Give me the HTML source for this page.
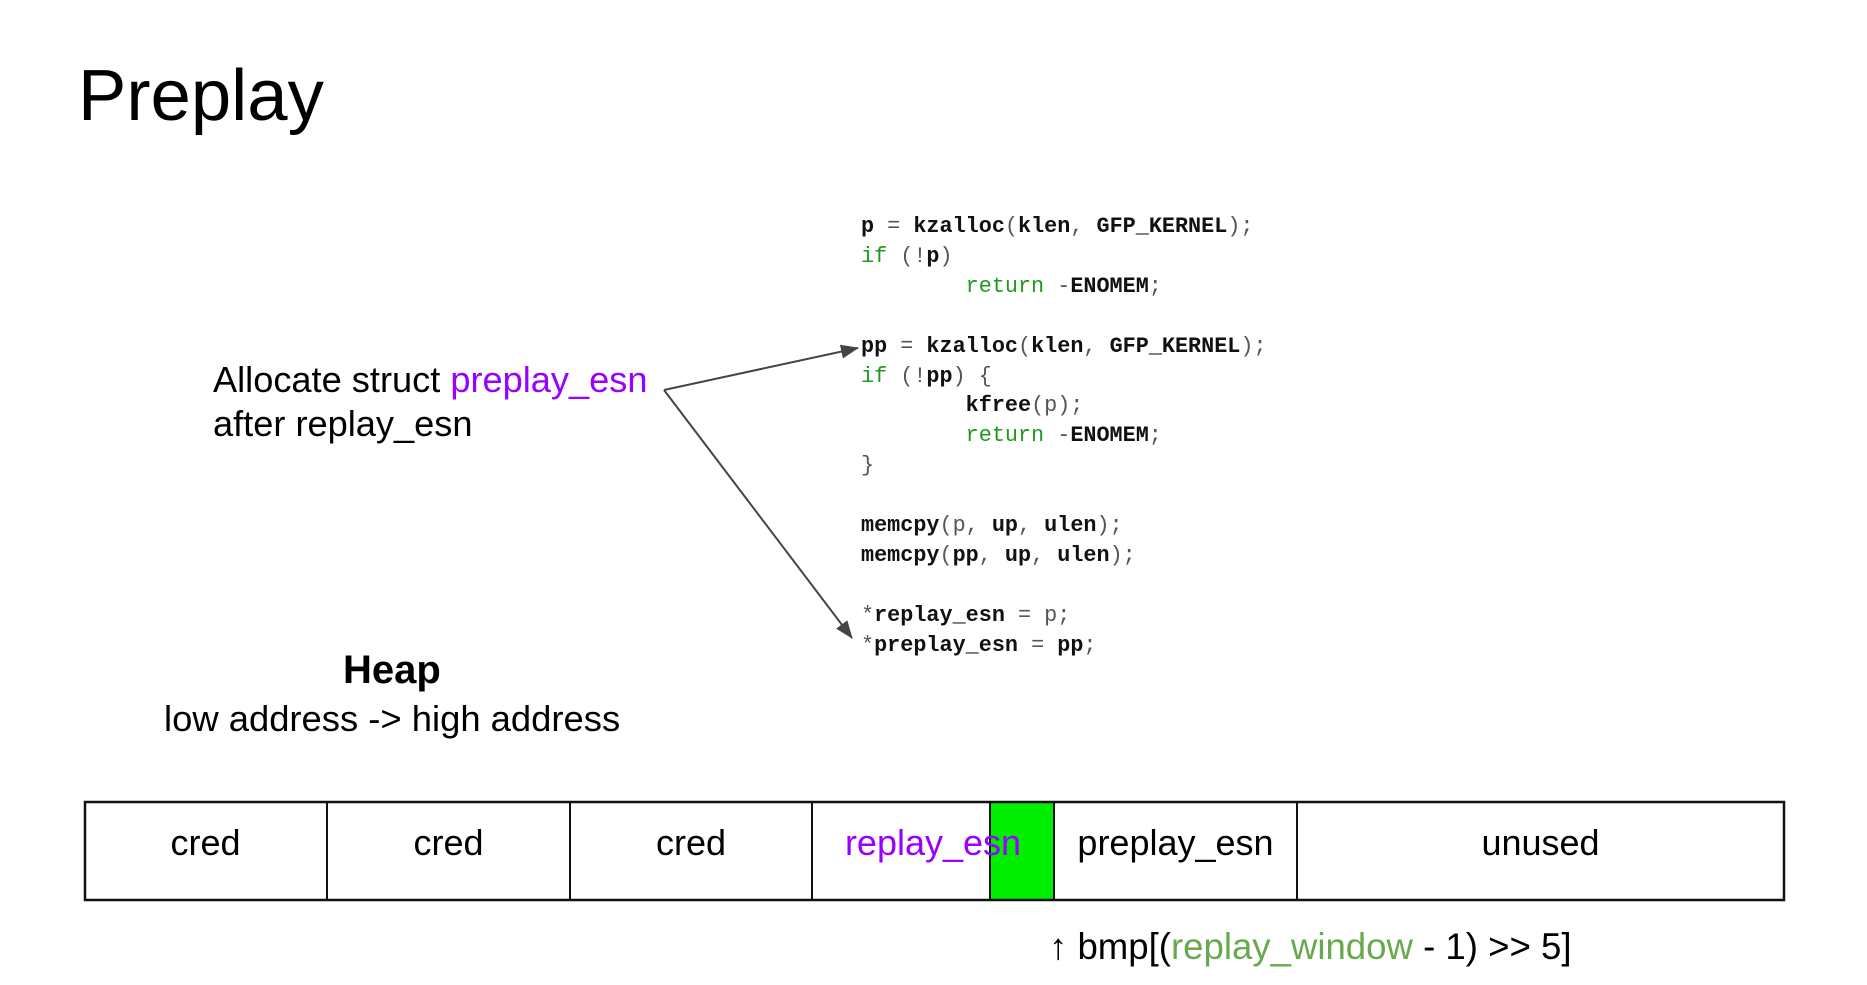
<!DOCTYPE html>
<html><head><meta charset="utf-8"><style>
body{margin:0;width:1867px;height:985px;background:#fff;position:relative;overflow:hidden;font-family:"Liberation Sans",sans-serif;}
.a{position:absolute;white-space:nowrap;}
.code{position:absolute;left:861px;top:212px;font-family:"Liberation Mono",monospace;font-size:21.8px;line-height:29.9px;white-space:pre;color:#555;}
.code b{color:#111;}
.g{color:#1f9a1f;}
.cell{position:absolute;top:801px;height:100px;box-sizing:border-box;font-size:36px;text-align:center;line-height:84px;}
</style></head><body>
<div class="a" style="left:78px;top:54px;font-size:72.5px;color:#000;">Preplay</div>
<div class="a" style="left:213px;top:358px;font-size:36.2px;line-height:44px;">Allocate struct <span style="color:#9900ff">preplay_esn</span><br>after replay_esn</div>
<div class="a" style="left:343px;top:648px;font-size:40px;font-weight:bold;">Heap</div>
<div class="a" style="left:164px;top:698px;font-size:36.4px;">low address -&gt; high address</div>
<div class="code"><b>p</b> = <b>kzalloc</b>(<b>klen</b>, <b>GFP_KERNEL</b>);
<span class="g">if</span> (!<b>p</b>)
        <span class="g">return</span> -<b>ENOMEM</b>;

<b>pp</b> = <b>kzalloc</b>(<b>klen</b>, <b>GFP_KERNEL</b>);
<span class="g">if</span> (!<b>pp</b>) {
        <b>kfree</b>(p);
        <span class="g">return</span> -<b>ENOMEM</b>;
}

<b>memcpy</b>(p, <b>up</b>, <b>ulen</b>);
<b>memcpy</b>(<b>pp</b>, <b>up</b>, <b>ulen</b>);

*<b>replay_esn</b> = p;
*<b>preplay_esn</b> = <b>pp</b>;</div>
<svg class="a" style="left:0;top:0" width="1867" height="985">
<defs><marker id="m" markerWidth="18" markerHeight="14" refX="17" refY="7" orient="auto" markerUnits="userSpaceOnUse" viewBox="0 0 18 14"><path d="M0,0L18,7L0,14z" fill="#444"/></marker></defs>
<line x1="664" y1="390" x2="858" y2="348" stroke="#444" stroke-width="2" marker-end="url(#m)"/>
<line x1="664" y1="390" x2="852" y2="638" stroke="#444" stroke-width="2" marker-end="url(#m)"/>
<rect x="990" y="801" width="64" height="100" fill="#00ee00"/>
<rect x="85" y="802" width="1699" height="98" fill="none" stroke="#111" stroke-width="2.5"/>
<g stroke="#111" stroke-width="2"><line x1="327" y1="801" x2="327" y2="901"/><line x1="570" y1="801" x2="570" y2="901"/><line x1="812" y1="801" x2="812" y2="901"/><line x1="990" y1="801" x2="990" y2="901"/><line x1="1054" y1="801" x2="1054" y2="901"/><line x1="1297" y1="801" x2="1297" y2="901"/></g>
</svg>
<div class="cell" style="left:84px;width:243px;">cred</div>
<div class="cell" style="left:327px;width:243px;">cred</div>
<div class="cell" style="left:570px;width:242px;">cred</div>
<div class="cell" style="left:812px;width:242px;color:#9900ff;">replay_esn</div>
<div class="cell" style="left:1054px;width:243px;">preplay_esn</div>
<div class="cell" style="left:1297px;width:487px;">unused</div>
<div class="a" style="left:1049px;top:926px;font-size:36.6px;">↑ bmp[(<span style="color:#6aa84f">replay_window</span> - 1) &gt;&gt; 5]</div>
</body></html>
